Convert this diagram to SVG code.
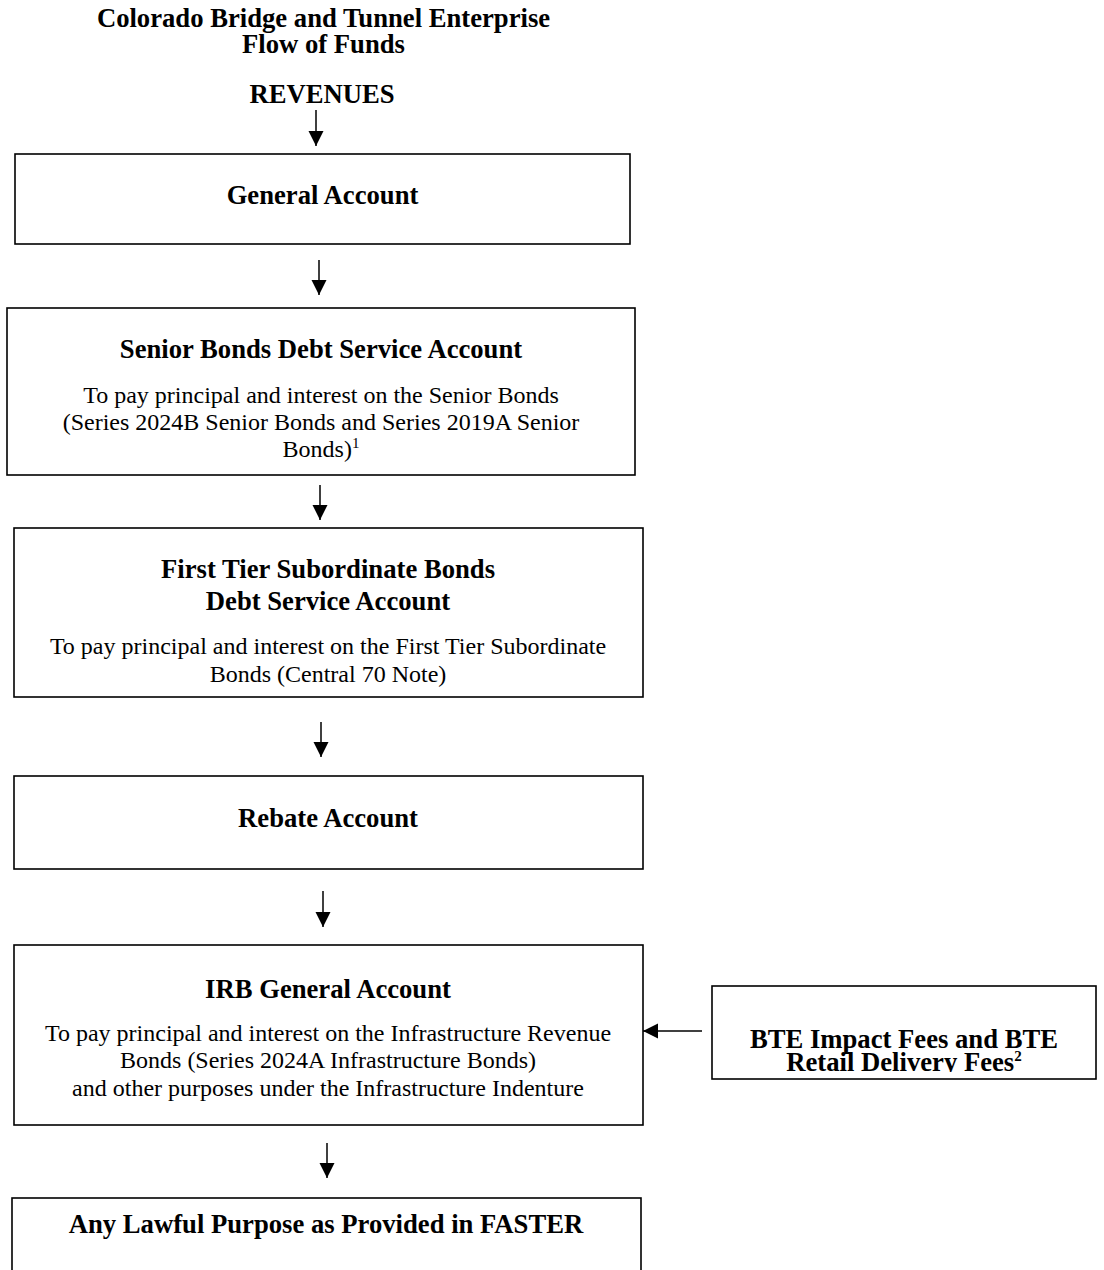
<svg xmlns="http://www.w3.org/2000/svg" width="1104" height="1270" viewBox="0 0 1104 1270">
<style>
text { font-family: "Liberation Serif", "Times New Roman", serif; fill: #000; text-anchor: middle; }
.b { font-weight: bold; font-size: 26.67px; }
.r { font-size: 24px; }
.box { fill: #fff; stroke: #000; stroke-width: 1.6; }
.conn { stroke: #000; stroke-width: 1.5; fill: none; marker-end: url(#ah); }
.sup { font-size: 15px; }
</style>
<defs>
<marker id="ah" markerUnits="userSpaceOnUse" markerWidth="16" markerHeight="16" refX="15" refY="8" orient="auto">
<path d="M0,0.5 L15,8 L0,15.5 Z" fill="#000"/>
</marker>
<clipPath id="bteclip"><rect x="712" y="986" width="384" height="86"/></clipPath>
</defs>
<rect width="1104" height="1270" fill="#fff"/>
<g id="title">
<text class="b" x="323.5" y="26.5">Colorado Bridge and Tunnel Enterprise</text>
<text class="b" x="323.5" y="52.5">Flow of Funds</text>
</g>
<g id="revenues">
<text class="b" x="322" y="103">REVENUES</text>
</g>
<g id="general">
<rect class="box" x="15" y="154" width="615" height="90"/>
<text class="b" x="322.5" y="204">General Account</text>
</g>
<g id="senior">
<rect class="box" x="7" y="308" width="628" height="167"/>
<text class="b" x="321" y="358">Senior Bonds Debt Service Account</text>
<text class="r" x="321" y="403">To pay principal and interest on the Senior Bonds</text>
<text class="r" x="321" y="430">(Series 2024B Senior Bonds and Series 2019A Senior</text>
<text class="r" x="321" y="457">Bonds)<tspan class="sup" dy="-9">1</tspan></text>
</g>
<g id="firsttier">
<rect class="box" x="14" y="528" width="629" height="169"/>
<text class="b" x="328" y="578">First Tier Subordinate Bonds</text>
<text class="b" x="328" y="610">Debt Service Account</text>
<text class="r" x="328" y="654">To pay principal and interest on the First Tier Subordinate</text>
<text class="r" x="328" y="682">Bonds (Central 70 Note)</text>
</g>
<g id="rebate">
<rect class="box" x="14" y="776" width="629" height="93"/>
<text class="b" x="328" y="827">Rebate Account</text>
</g>
<g id="irb">
<rect class="box" x="14" y="945" width="629" height="180"/>
<text class="b" x="328" y="998">IRB General Account</text>
<text class="r" x="328" y="1041">To pay principal and interest on the Infrastructure Revenue</text>
<text class="r" x="328" y="1068">Bonds (Series 2024A Infrastructure Bonds)</text>
<text class="r" x="328" y="1096">and other purposes under the Infrastructure Indenture</text>
</g>
<g id="bte">
<rect class="box" x="712" y="986" width="384" height="93"/>
<g clip-path="url(#bteclip)">
<text class="b" x="904" y="1048">BTE Impact Fees and BTE</text>
<text class="b" x="904" y="1071">Retail Delivery Fees<tspan class="sup" font-weight="bold" dy="-10">2</tspan></text>
</g>
</g>
<g id="lawful">
<rect class="box" x="12" y="1198" width="629" height="100"/>
<text class="b" x="326" y="1233">Any Lawful Purpose as Provided in FASTER</text>
</g>
<g id="connectors">
<line class="conn" x1="316" y1="110" x2="316" y2="146"/>
<line class="conn" x1="319" y1="260" x2="319" y2="295"/>
<line class="conn" x1="320" y1="485" x2="320" y2="520"/>
<line class="conn" x1="321" y1="722" x2="321" y2="757"/>
<line class="conn" x1="323" y1="891" x2="323" y2="927"/>
<line class="conn" x1="327" y1="1143" x2="327" y2="1178"/>
<line class="conn" x1="702" y1="1031" x2="643" y2="1031"/>
</g>
</svg>
